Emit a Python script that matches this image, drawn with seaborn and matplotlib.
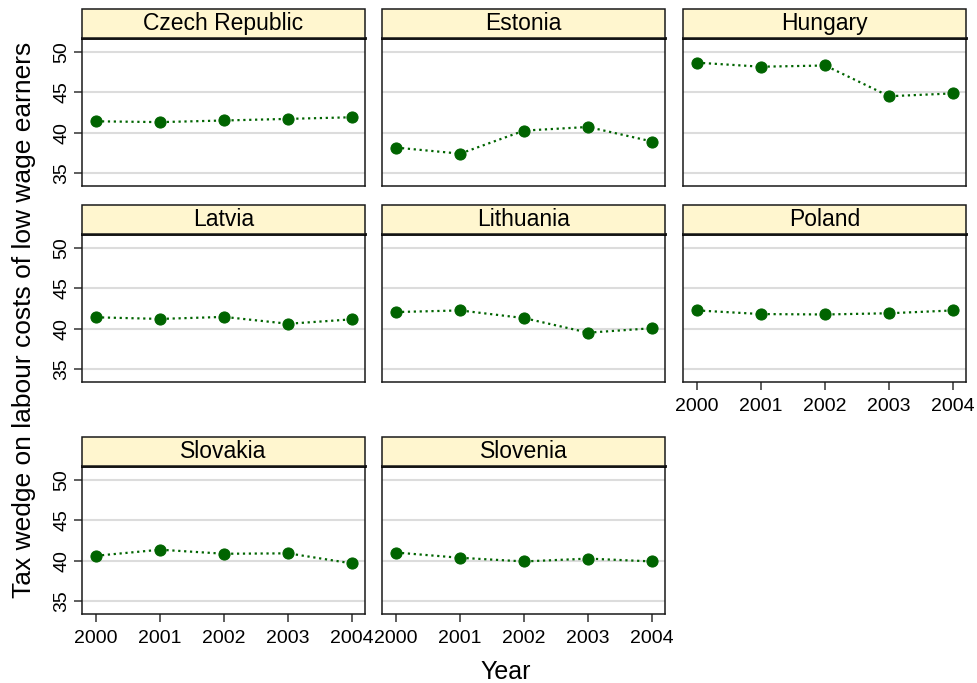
import matplotlib
matplotlib.use("Agg")
import matplotlib.pyplot as plt
import seaborn as sns
import pandas as pd
from matplotlib.patches import Rectangle

years = [2000, 2001, 2002, 2003, 2004]
countries = ["Czech Republic", "Estonia", "Hungary", "Latvia", "Lithuania",
             "Poland", "Slovakia", "Slovenia"]
czech = [41.4, 41.3, 41.5, 41.7, 41.9]
estonia = [38.15, 37.4, 40.25, 40.7, 38.9]
hungary = [48.65, 48.15, 48.3, 44.5, 44.85]
latvia = [41.4, 41.2, 41.45, 40.6, 41.15]
lithuania = [42.05, 42.25, 41.3, 39.5, 40.05]
poland = [42.25, 41.8, 41.75, 41.9, 42.25]
slovakia = [40.6, 41.35, 40.85, 40.9, 39.65]
slovenia = [41.0, 40.35, 39.9, 40.25, 39.9]
yticks = [35, 40, 45, 50]

series = [czech, estonia, hungary, latvia, lithuania, poland, slovakia, slovenia]
rows = []
for c, vals in zip(countries, series):
    for yr, v in zip(years, vals):
        rows.append({"country": c, "year": yr, "value": v})
df = pd.DataFrame(rows)

sns.set_theme(style="white")
plt.rcParams["font.family"] = ["Liberation Sans", "DejaVu Sans"]
plt.rcParams["text.color"] = "black"
plt.rcParams["xtick.color"] = "black"
plt.rcParams["ytick.color"] = "black"
plt.rcParams["axes.labelcolor"] = "black"

green = "#006400"
g = sns.FacetGrid(df, col="country", col_wrap=3, col_order=countries,
                  sharex=True, sharey=True, height=2.2, aspect=1.4)
g.map_dataframe(sns.lineplot, x="year", y="value", color=green, marker="o",
                markersize=8, markeredgecolor=green, markerfacecolor=green,
                linestyle=":", linewidth=1.6)
g.set_titles("")
g.set_axis_labels("", "")

fig = g.figure
fig.set_size_inches(9.78, 6.83)
W, H = 978.0, 683.0
col_left = [82, 382, 683]
col_w = 283
row_tb = [(38, 186), (234, 382), (466, 614)]
strip_px = 29

for i, ax in enumerate(g.axes.flat):
    r, c = divmod(i, 3)
    top, bot = row_tb[r]
    ax.set_position([col_left[c] / W, 1 - bot / H, col_w / W, (bot - top) / H])
    ax.set_xlim(1999.78, 2004.2)
    ax.set_ylim(33.4, 51.7)
    ax.set_yticks(yticks)
    ax.set_xticks(years)
    ax.yaxis.grid(True, color="#DCDCDC", linewidth=1.5)
    ax.xaxis.grid(False)
    ax.set_axisbelow(True)
    for s in ax.spines.values():
        s.set_color("#1a1a1a")
        s.set_linewidth(1.1)
        s.set_visible(True)
    ax.spines["top"].set_linewidth(2.0)
    ax.spines["top"].set_color("black")
    is_left = (c == 0)
    is_bottom = (i >= len(countries) - 3)
    ax.tick_params(axis="y", left=is_left, labelleft=is_left, length=5.5,
                   width=1.1, color="#333333", labelcolor="black",
                   labelsize=14, pad=3, labelrotation=90)
    ax.tick_params(axis="x", bottom=is_bottom, labelbottom=is_bottom, length=5.5,
                   width=1.1, color="#333333", labelcolor="black",
                   labelsize=14, pad=6)
    for lab in ax.get_yticklabels():
        lab.set_va("center")
    ax.set_xlabel("")
    ax.set_ylabel("")
    h = strip_px / (bot - top)
    ax.add_patch(Rectangle((0, 1), 1, h, transform=ax.transAxes, clip_on=False,
                           facecolor="#FFF6CF", edgecolor="#1a1a1a",
                           linewidth=1.1, zorder=3))
    ax.text(0.5, 1 + h / 2, countries[i], transform=ax.transAxes, ha="center",
            va="center", fontsize=16.5, color="black", zorder=4)

fig.text(24 / W, 1 - 320 / H, "Tax wedge on labour costs of low wage earners",
         rotation=90, ha="center", va="center", fontsize=19, color="black")
fig.text(506 / W, 1 - 672 / H, "Year", ha="center", va="center", fontsize=18,
         color="black")

fig.savefig("out.png", dpi=100)
